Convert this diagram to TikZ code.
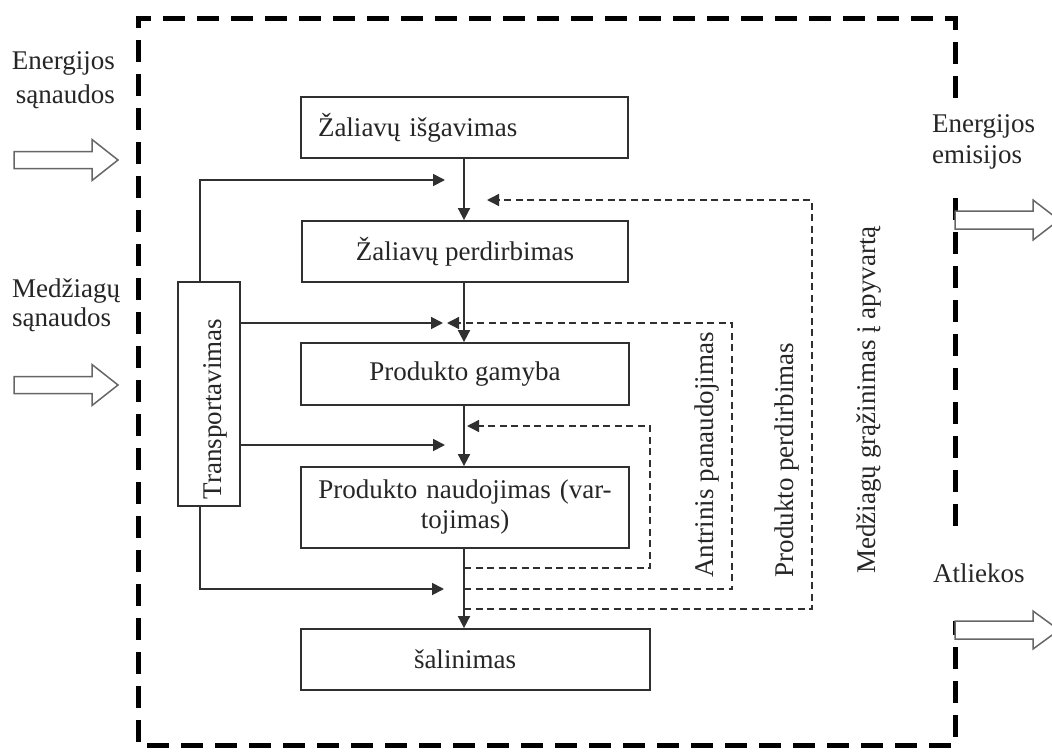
\documentclass[tikz,border=0pt]{standalone}
\usepackage{fontspec}
\setmainfont{Liberation Serif}
\usetikzlibrary{arrows.meta}
\definecolor{ink}{HTML}{262626}
\definecolor{linec}{HTML}{303030}
\begin{document}
\begin{tikzpicture}[x=1pt,y=-1pt,
  lbl/.style={font=\fontsize{27pt}{31pt}\selectfont, text=ink, inner sep=0pt},
  box/.style={draw=linec, line width=1.8pt, inner sep=0pt, lbl},
  flow/.style={draw=linec, line width=1.8pt, -{Triangle[length=12pt,width=12pt]}},
  back/.style={draw=linec, line width=1.4pt, dash pattern=on 7pt off 4.5pt, -{Triangle[length=12pt,width=12pt]}},
  hollow/.style={draw=black!60, line width=1.5pt, fill=white, line join=miter},
  border/.style={draw=black, line width=5pt, dash pattern=on 22pt off 12pt}
]
\useasboundingbox (0,0) rectangle (1052,752);
\fill[white] (0,0) rectangle (1052,752);

% outer system boundary (broken on the right where the outputs leave)
\draw[border] (955,98) -- (955,18.5) -- (138,18.5) -- (138,745) -- (955,745) -- (955,621);
\draw[border] (955,198) -- (955,537);

% input arrows
\draw[hollow] (14,151.5) -- (92,151.5) -- (92,139.5) -- (118,160) -- (92,180.5) -- (92,168.5) -- (14,168.5) -- cycle;
\draw[hollow] (14,376.5) -- (92,376.5) -- (92,364.5) -- (118,385) -- (92,405.5) -- (92,393.5) -- (14,393.5) -- cycle;
% output arrows
\draw[hollow] (955,211) -- (1033,211) -- (1033,200) -- (1059,220) -- (1033,240) -- (1033,229) -- (955,229) -- cycle;
\draw[hollow] (955,621) -- (1033,621) -- (1033,611) -- (1059,630) -- (1033,649) -- (1033,639) -- (955,639) -- cycle;

% outside labels
\node[lbl, anchor=base east] (ei1) at (115,70) {Energijos};
\node[lbl, anchor=base east] (ei2) at (115,103) {sąnaudos};
\node[lbl, anchor=base west] (mi1) at (12,297) {Medžiagų};
\node[lbl, anchor=base west] (mi2) at (12,326) {sąnaudos};
\node[lbl, anchor=base west] (eo1) at (932,132) {Energijos};
\node[lbl, anchor=base west] (eo2) at (932,163) {emisijos};
\node[lbl, anchor=base west] (wo) at (933,582) {Atliekos};

% stage boxes
\node[box, minimum width=327pt, minimum height=61pt, text width=293pt, inner xsep=17pt, align=left] (b1) at (464.5,127.5) {Žaliavų išgavimas};
\node[box, minimum width=326pt, minimum height=61pt] (b2) at (465,251.5) {Žaliavų perdirbimas};
\node[box, minimum width=328pt, minimum height=62pt] (b3) at (465,374) {Produkto gamyba};
\node[box, minimum width=328pt, minimum height=81pt, text width=300pt, align=center, font=\fontsize{27pt}{30pt}\selectfont] (b4) at (465,507.5) {Produkto naudojimas (var-\\tojimas)};
\node[box, minimum width=349pt, minimum height=61pt, text width=123pt, inner xsep=113pt, align=left] (b5) at (475.5,659.5) {šalinimas};
\node[box, minimum width=62pt, minimum height=224pt] (tr) at (209,394) {};
\node[lbl, rotate=90] (trt) at (215,409) {Transportavimas};

% loop labels
\node[lbl, rotate=90] (l1) at (707,455) {Antrinis panaudojimas};
\node[lbl, rotate=90] (l2) at (787,460) {Produkto perdirbimas};
\node[lbl, rotate=90] (l3) at (869,400) {Medžiagų grąžinimas į apyvartą};

% helper coordinates
\coordinate (mx) at (464,0);
\coordinate (tx) at (200,0);
\coordinate (a1) at (445,180);
\coordinate (a2) at (443,323);
\coordinate (a3) at (445,445);
\coordinate (a4) at (444,589);
\coordinate (r1) at (812,609);
\coordinate (r2) at (732,589);
\coordinate (r3) at (650,568);
\coordinate (d1) at (487,200);
\coordinate (d2) at (447,323);
\coordinate (d3) at (467,426);

% main flow
\draw[flow] (b1.south -| mx) -- (b2.north -| mx);
\draw[flow] (b2.south -| mx) -- (b3.north -| mx);
\draw[flow] (b3.south -| mx) -- (b4.north -| mx);
\draw[flow] (b4.south -| mx) -- (b5.north -| mx);

% transport connectors
\draw[flow] (tr.north -| tx) |- (a1);
\draw[flow] (tr.east |- a2) -- (a2);
\draw[flow] (tr.east |- a3) -- (a3);
\draw[flow] (tr.south -| tx) |- (a4);

% return loops
\draw[back] (mx |- r1) -- (r1) |- (d1);
\draw[back] (mx |- r2) -- (r2) |- (d2);
\draw[back] (mx |- r3) -- (r3) |- (d3);
\end{tikzpicture}
\end{document}
